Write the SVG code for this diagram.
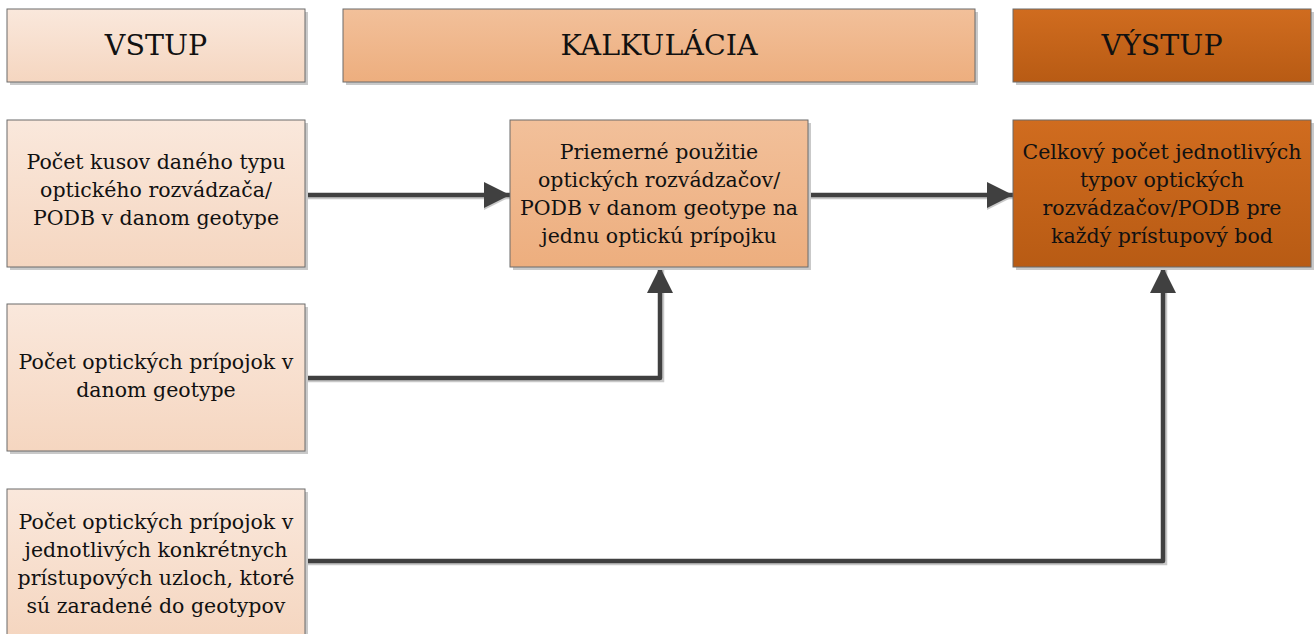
<svg xmlns="http://www.w3.org/2000/svg" width="1315" height="634" viewBox="0 0 1315 634">
<defs>
<linearGradient id="gLight" x1="0" y1="0" x2="0" y2="1"><stop offset="0" stop-color="#fae8dc"/><stop offset="1" stop-color="#f5d6c0"/></linearGradient>
<linearGradient id="gMid" x1="0" y1="0" x2="0" y2="1"><stop offset="0" stop-color="#f2c09a"/><stop offset="1" stop-color="#edae7e"/></linearGradient>
<linearGradient id="gDark" x1="0" y1="0" x2="0" y2="1"><stop offset="0" stop-color="#d06c1f"/><stop offset="1" stop-color="#b85b14"/></linearGradient>
<marker id="arr" markerUnits="userSpaceOnUse" markerWidth="28" markerHeight="26" refX="26" refY="13" orient="auto"><path d="M0,0 L26,13 L0,26 Z" fill="#404040"/></marker>
<marker id="arrS" markerUnits="userSpaceOnUse" markerWidth="28" markerHeight="26" refX="26" refY="13" orient="auto"><path d="M0,0 L26,13 L0,26 Z" fill="#c8c8c8"/></marker>
<style>
.box{stroke:#6b6b6b;stroke-width:1}
.sh{fill:#c9c9c9}
.t{font-family:"DejaVu Serif","Liberation Serif",serif;font-size:20.5px;fill:#111;text-anchor:middle}
.h{font-family:"DejaVu Serif","Liberation Serif",serif;font-size:28.5px;fill:#111;text-anchor:middle}
.c{fill:none;stroke:#404040;stroke-width:4.5;stroke-linejoin:round}
.cs{fill:none;stroke:#c8c8c8;stroke-width:4.5}
</style>
</defs>
<g id="hdr-vstup"><rect class="sh" x="10" y="12" width="298" height="73"/><rect class="box" x="7" y="9" width="298" height="73" fill="url(#gLight)"/><text class="h" x="156" y="55">VSTUP</text></g>
<g id="hdr-kalk"><rect class="sh" x="346" y="12" width="632" height="73"/><rect class="box" x="343" y="9" width="632" height="73" fill="url(#gMid)"/><text class="h" x="659" y="55">KALKULÁCIA</text></g>
<g id="hdr-vystup"><rect class="sh" x="1016" y="12" width="298" height="73"/><rect class="box" x="1013" y="9" width="298" height="73" fill="url(#gDark)"/><text class="h" x="1162" y="55">VÝSTUP</text></g>

<g id="connectors">
<path class="cs" d="M307,197 H510" marker-end="url(#arrS)"/>
<path class="cs" d="M810,197 H1013" marker-end="url(#arrS)"/>
<path class="cs" d="M307,380 H662 V267"/>
<path class="cs" d="M307,563 H1165 V267"/>
<path class="c" d="M305,195 H510" marker-end="url(#arr)"/>
<path class="c" d="M808,195 H1013" marker-end="url(#arr)"/>
<path class="c" d="M305,378 H660 V267" marker-end="url(#arr)"/>
<path class="c" d="M305,561 H1163 V267" marker-end="url(#arr)"/>
</g>

<g id="in1"><rect class="sh" x="10" y="123" width="298" height="147"/><rect class="box" x="7" y="120" width="298" height="147" fill="url(#gLight)"/>
<text class="t"><tspan x="156" y="169">Počet kusov daného typu</tspan><tspan x="156" y="197">optického rozvádzača/</tspan><tspan x="156" y="225">PODB v danom geotype</tspan></text></g>
<g id="calc"><rect class="sh" x="513" y="123" width="298" height="147"/><rect class="box" x="510" y="120" width="298" height="147" fill="url(#gMid)"/>
<text class="t"><tspan x="659" y="159">Priemerné použitie</tspan><tspan x="659" y="187">optických rozvádzačov/</tspan><tspan x="659" y="215">PODB v danom geotype na</tspan><tspan x="659" y="243">jednu optickú prípojku</tspan></text></g>
<g id="out"><rect class="sh" x="1016" y="123" width="298" height="147"/><rect class="box" x="1013" y="120" width="298" height="147" fill="url(#gDark)"/>
<text class="t"><tspan x="1162" y="159">Celkový počet jednotlivých</tspan><tspan x="1162" y="187">typov optických</tspan><tspan x="1162" y="215">rozvádzačov/PODB pre</tspan><tspan x="1162" y="243">každý prístupový bod</tspan></text></g>
<g id="in2"><rect class="sh" x="10" y="307" width="298" height="147"/><rect class="box" x="7" y="304" width="298" height="147" fill="url(#gLight)"/>
<text class="t"><tspan x="156" y="369">Počet optických prípojok v</tspan><tspan x="156" y="397">danom geotype</tspan></text></g>
<g id="in3"><rect class="sh" x="10" y="492" width="298" height="147"/><rect class="box" x="7" y="489" width="298" height="147" fill="url(#gLight)"/>
<text class="t"><tspan x="156" y="529">Počet optických prípojok v</tspan><tspan x="156" y="557">jednotlivých konkrétnych</tspan><tspan x="156" y="585">prístupových uzloch, ktoré</tspan><tspan x="156" y="613">sú zaradené do geotypov</tspan></text></g>
</svg>
